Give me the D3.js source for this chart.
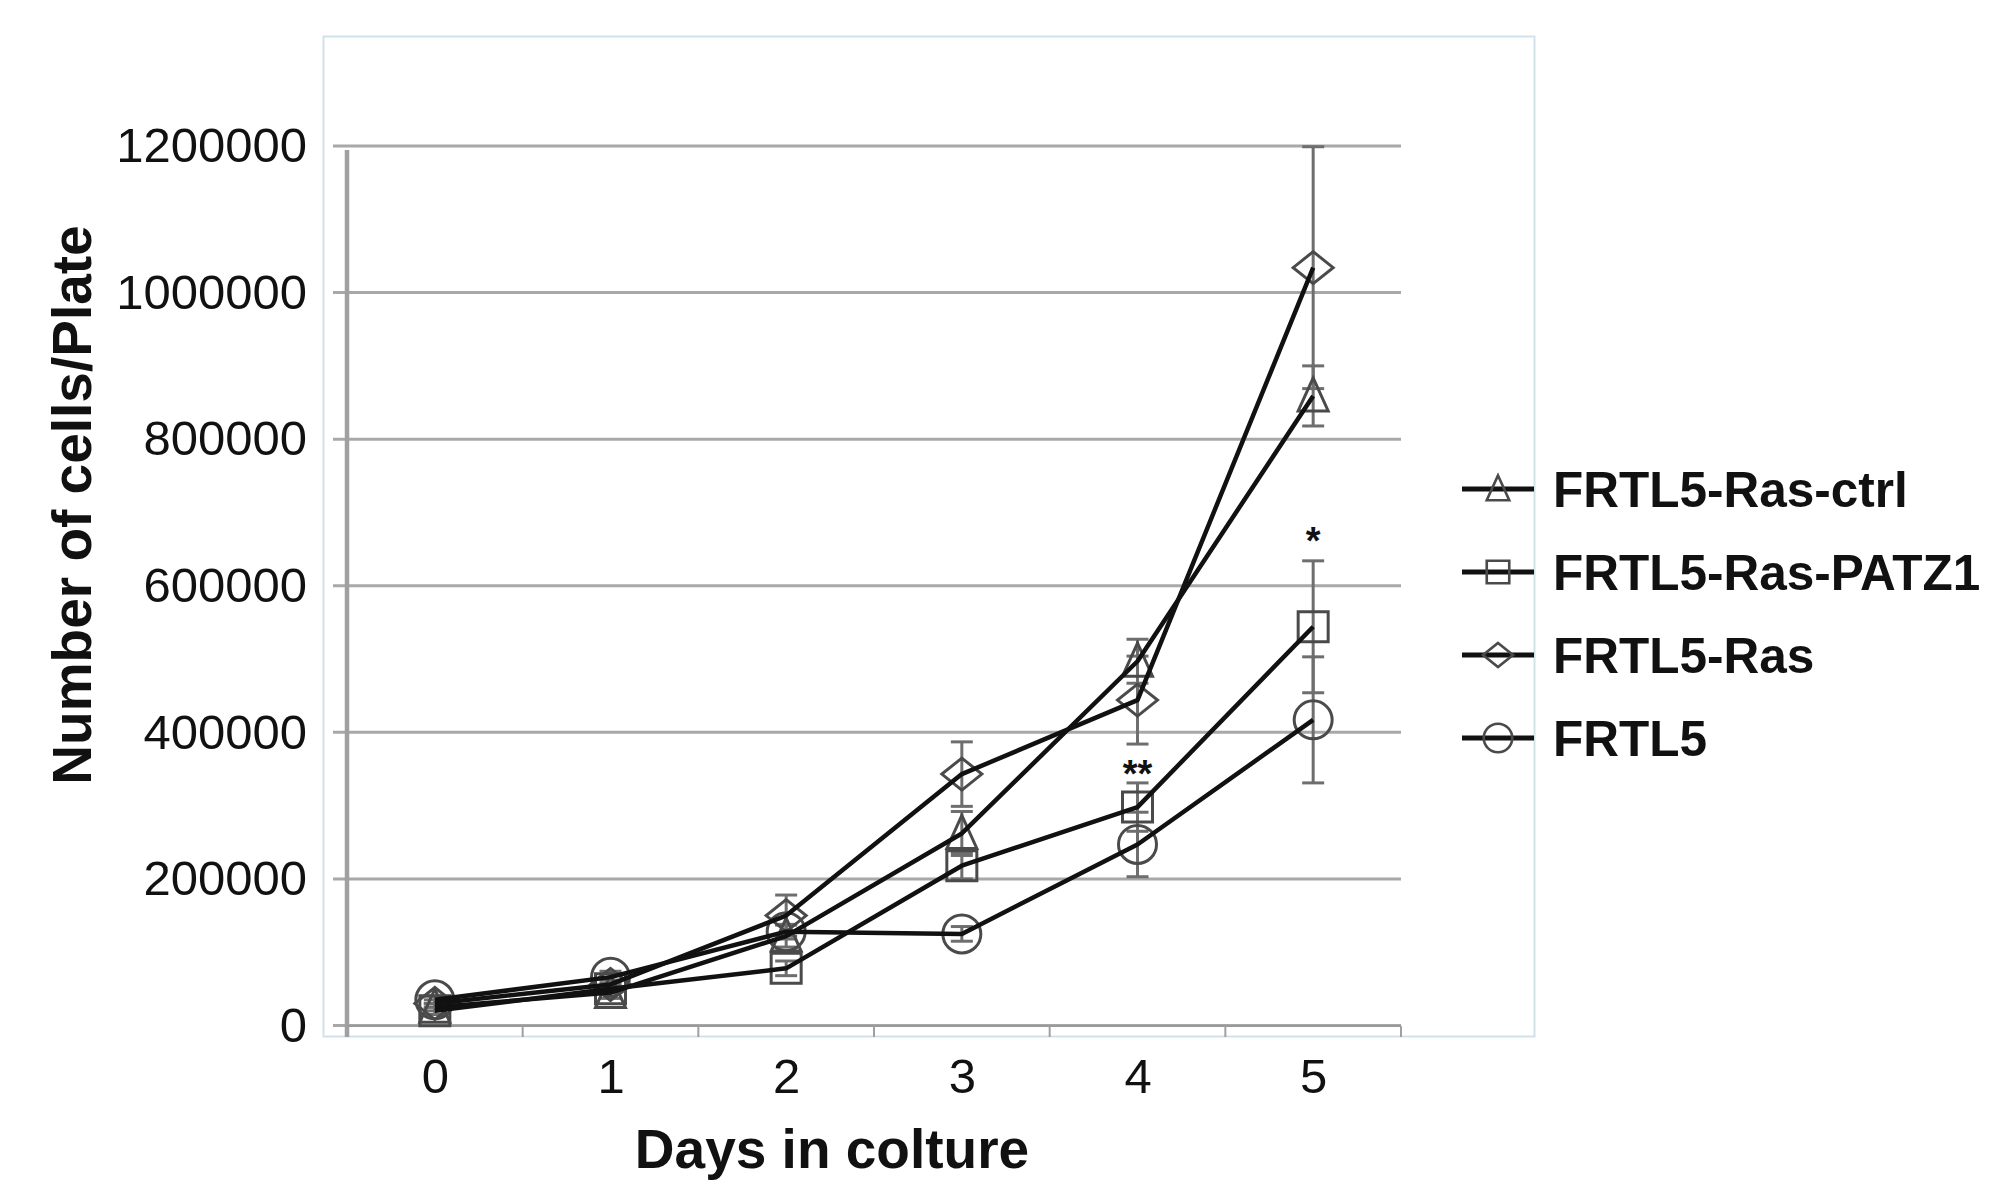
<!DOCTYPE html>
<html>
<head>
<meta charset="utf-8">
<script src="https://cdn.jsdelivr.net/npm/d3@7"></script>
<style>
  body { margin: 0; background: #fff; }
  text { font-family: "Liberation Sans", Arial, sans-serif; }
</style>
</head>
<body>
<script>
// days on the x axis
var days = ["0", "1", "2", "3", "4", "5"];

// series names (legend order)
var names = ["FRTL5-Ras-ctrl", "FRTL5-Ras-PATZ1", "FRTL5-Ras", "FRTL5"];

// cells per plate
var rasCtrl     = [25000, 45000, 122000, 262000, 497000, 859000];
var rasCtrlErr  = [5000, 8000, 15000, 30000, 30000, 41000];
var rasPatz1    = [20000, 50000, 78000, 218000, 298000, 544000];
var rasPatz1Err = [5000, 5000, 10000, 18000, 33000, 90000];
var ras         = [30000, 56000, 150000, 343000, 444000, 1034000];
var rasErr      = [5000, 6000, 28000, 44000, 60000, 165000];
var frtl5       = [35000, 66000, 128000, 125000, 247000, 417000];
var frtl5Err    = [5000, 8000, 10000, 10000, 44000, 86000];

var yTicks = [0, 200000, 400000, 600000, 800000, 1000000, 1200000];

// significance marks
var starDays = ["4", "5"];
var starLabels = ["**", "*"];
var starValues = [355000, 673000];

var shapes = {
  triangle: "M0,-18L15,15L-15,15Z",
  square: "M-15,-15H15V15H-15Z",
  diamond: "M0,-16L20,0L0,16L-20,0Z",
  circle: "M19,0A19,19 0 1,1 -19,0A19,19 0 1,1 19,0Z"
};

var series = [
  {name: names[0], values: rasCtrl, errors: rasCtrlErr, shape: "triangle"},
  {name: names[1], values: rasPatz1, errors: rasPatz1Err, shape: "square"},
  {name: names[2], values: ras, errors: rasErr, shape: "diamond"},
  {name: names[3], values: frtl5, errors: frtl5Err, shape: "circle"}
];

var width = 2009, height = 1181;

var svg = d3.select("body").append("svg")
    .attr("width", width)
    .attr("height", height);

// chart frame
svg.append("rect")
    .attr("x", 323.5).attr("y", 36.5)
    .attr("width", 1211).attr("height", 1000)
    .attr("fill", "#fff")
    .attr("stroke", "#d2e2ea")
    .attr("stroke-width", 2);

var x = d3.scalePoint().domain(days).range([347, 1401]).padding(0.5);
var xb = d3.scaleBand().domain(days).range([347, 1401]);
var y = d3.scaleLinear().domain([0, 1200000]).range([1025.5, 146]);

// gridlines
svg.append("g")
  .selectAll("line")
    .data(yTicks)
  .enter().append("line")
    .attr("x1", 333).attr("x2", 1401)
    .attr("y1", function(d) { return y(d); })
    .attr("y2", function(d) { return y(d); })
    .attr("stroke", "#a8a8a8")
    .attr("stroke-width", 3);

// y axis line
svg.append("line")
    .attr("x1", 347).attr("x2", 347)
    .attr("y1", y(1200000) + 4).attr("y2", 1037)
    .attr("stroke", "#a0a0a0")
    .attr("stroke-width", 4.5);

// y tick labels
var yAxis = svg.append("g")
    .attr("transform", "translate(347,0)")
    .call(d3.axisLeft(y).tickValues(yTicks).tickSize(0).tickPadding(40).tickFormat(d3.format("d")));
yAxis.select(".domain").remove();
yAxis.selectAll("text")
    .attr("font-size", 49)
    .attr("fill", "#111")
    .style("font-family", "'Liberation Sans', Arial, sans-serif");

// x axis line and boundary ticks
var xg = svg.append("g").attr("transform", "translate(0,1026)");
xg.append("line")
    .attr("x1", 347).attr("x2", 1401)
    .attr("stroke", "#9a9a9a").attr("stroke-width", 2);
xg.selectAll(".edge")
    .data(days.map(function(d) { return xb(d); }).concat([xb.range()[1]]))
  .enter().append("line")
    .attr("class", "edge")
    .attr("x1", function(d) { return d; })
    .attr("x2", function(d) { return d; })
    .attr("y1", 0).attr("y2", 11)
    .attr("stroke", "#a0a0a0").attr("stroke-width", 2);

var xAxis = xg.append("g")
    .call(d3.axisBottom(x).tickSize(0).tickPadding(32));
xAxis.select(".domain").remove();
xAxis.selectAll("text")
    .attr("font-size", 49)
    .attr("fill", "#111")
    .style("font-family", "'Liberation Sans', Arial, sans-serif");

// error bars
series.forEach(function(s) {
  var g = svg.append("g")
      .attr("stroke", "#6e6e6e")
      .attr("stroke-width", 3);
  s.values.forEach(function(v, i) {
    var cx = x(days[i]), lo = y(v - s.errors[i]), hi = y(v + s.errors[i]);
    g.append("line").attr("x1", cx).attr("x2", cx).attr("y1", lo).attr("y2", hi);
    g.append("line").attr("x1", cx - 11).attr("x2", cx + 11).attr("y1", lo).attr("y2", lo);
    g.append("line").attr("x1", cx - 11).attr("x2", cx + 11).attr("y1", hi).attr("y2", hi);
  });
});

// markers
series.forEach(function(s) {
  svg.append("g")
    .selectAll("path")
      .data(s.values)
    .enter().append("path")
      .attr("d", shapes[s.shape])
      .attr("transform", function(d, i) { return "translate(" + x(days[i]) + "," + y(d) + ")"; })
      .attr("fill", "none")
      .attr("stroke", "#4a4a4a")
      .attr("stroke-width", 3);
});

// lines
var line = d3.line()
    .x(function(d, i) { return x(days[i]); })
    .y(function(d) { return y(d); });

series.forEach(function(s) {
  svg.append("path")
      .datum(s.values)
      .attr("d", line)
      .attr("fill", "none")
      .attr("stroke", "#111")
      .attr("stroke-width", 4.5)
      .attr("stroke-linejoin", "round");
});

// significance stars
svg.append("g")
  .selectAll("text")
    .data(starLabels)
  .enter().append("text")
    .attr("x", function(d, i) { return x(starDays[i]); })
    .attr("y", function(d, i) { return y(starValues[i]) + 22; })
    .attr("text-anchor", "middle")
    .attr("font-size", 38)
    .attr("font-weight", "bold")
    .attr("fill", "#111")
    .text(function(d) { return d; });

// axis titles
svg.append("text")
    .attr("transform", "translate(91,505) rotate(-90)")
    .attr("text-anchor", "middle")
    .attr("font-size", 55)
    .attr("font-weight", "bold")
    .attr("fill", "#111")
    .text("Number of cells/Plate");

svg.append("text")
    .attr("x", 832).attr("y", 1168)
    .attr("text-anchor", "middle")
    .attr("font-size", 55)
    .attr("font-weight", "bold")
    .attr("fill", "#111")
    .text("Days in colture");

// legend
var legend = svg.append("g")
  .selectAll("g")
    .data(series)
  .enter().append("g")
    .attr("transform", function(d, i) { return "translate(0," + (489 + i * 83) + ")"; });

legend.append("line")
    .attr("x1", 1462).attr("x2", 1534)
    .attr("stroke", "#111").attr("stroke-width", 5);

legend.append("path")
    .attr("d", function(d) { return shapes[d.shape]; })
    .attr("transform", "translate(1498,0) scale(0.75)")
    .attr("fill", "none")
    .attr("stroke", "#4a4a4a")
    .attr("stroke-width", 3.5);

legend.append("text")
    .attr("x", 1553).attr("y", 18)
    .attr("font-size", 49.5)
    .attr("font-weight", "bold")
    .attr("fill", "#111")
    .text(function(d) { return d.name; });
</script>
</body>
</html>
